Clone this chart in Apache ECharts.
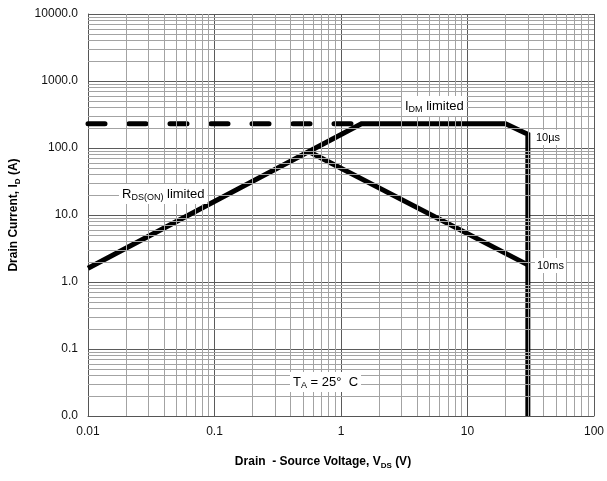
<!DOCTYPE html>
<html>
<head>
<meta charset="utf-8">
<script src="https://cdn.jsdelivr.net/npm/echarts@6.0.0/dist/echarts.min.js"></script>
<style>
html,body{margin:0;padding:0;background:#fff;}
#chart{width:607px;height:481px;}
</style>
</head>
<body>
<div id="chart"></div>
<script>
// ---- data ----
const xTickLabels = ['0.01', '0.1', '1', '10', '100'];
const yTickLabels = ['0.0', '0.1', '1.0', '10.0', '100.0', '1000.0', '10000.0'];
const xDecades = [0.01, 0.1, 1, 10, 100];
const yDecades = [0.01, 0.1, 1, 10, 100, 1000, 10000];
const minorMultipliers = [2, 3, 4, 5, 6, 7, 8, 9];
// I_DM limit extended to the left (dashed)
const idmDashed = [[0.01, 230], [1.45, 230]];
// SOA boundary: R_DS(on) limit -> I_DM limit -> 10us -> V_DS max
const soaBoundary = [[0.01, 1.6], [1.45, 230], [20, 230], [30, 160], [30, 0.01]];
// 10 ms line
const line10ms = [[0.56, 88], [30, 1.8]];

// minor grid positions
const xMinor = [];
xDecades.slice(0, -1).forEach(d => minorMultipliers.forEach(m => xMinor.push(d * m)));
const yMinor = [];
yDecades.slice(0, -1).forEach(d => minorMultipliers.forEach(m => yMinor.push(d * m)));

function labelFor(v, ticks, labels) {
  let best = 0, bd = Infinity;
  ticks.forEach((t, i) => {
    const d = Math.abs(Math.log10(v) - Math.log10(t));
    if (d < bd) { bd = d; best = i; }
  });
  return labels[best];
}

const chart = echarts.init(document.getElementById('chart'), null, {renderer: 'canvas'});
const FONT = '"Liberation Sans", Arial, sans-serif';

const minorLines = [];
xMinor.forEach(v => minorLines.push({xAxis: v}));
yMinor.forEach(v => minorLines.push({yAxis: v}));

const titleRich = {
  b: {fontSize: 12, fontWeight: 'bold', fontFamily: FONT, color: '#000', lineHeight: 16},
  s: {fontSize: 8, fontWeight: 'bold', fontFamily: FONT, color: '#000', lineHeight: 10, verticalAlign: 'bottom'}
};

const option = {
  animation: false,
  backgroundColor: '#fff',
  textStyle: {fontFamily: FONT},
  grid: {left: 88, right: 11, top: 14, bottom: 65, containLabel: false},
  xAxis: {
    type: 'log', logBase: 10, min: 0.01, max: 100, splitNumber: 4,
    axisLine: {show: true, onZero: false, lineStyle: {color: '#555', width: 1}},
    axisTick: {show: false},
    axisLabel: {
      color: '#111', fontSize: 12, fontFamily: FONT, margin: 10,
      formatter: v => labelFor(v, xDecades, xTickLabels)
    },
    splitLine: {show: true, lineStyle: {color: '#5a5a5a', width: 1}},
    name: '{b|Drain  - Source Voltage, V}{s|DS}{b| (V)}',
    nameLocation: 'middle', nameGap: 38,
    nameTextStyle: {padding: [0, 36, 0, 0], rich: titleRich}
  },
  yAxis: {
    type: 'log', logBase: 10, min: 0.01, max: 10000, splitNumber: 6,
    axisLine: {show: true, onZero: false, lineStyle: {color: '#555', width: 1}},
    axisTick: {show: false},
    axisLabel: {
      color: '#111', fontSize: 12, fontFamily: FONT, margin: 10,
      formatter: v => labelFor(v, yDecades, yTickLabels)
    },
    splitLine: {show: true, lineStyle: {color: '#5a5a5a', width: 1}},
    name: '{b|Drain Current, I}{s|D}{b| (A)}',
    nameLocation: 'middle', nameGap: 66, nameRotate: 90,
    nameTextStyle: {rich: titleRich}
  },
  series: [
    {
      type: 'line', data: [], silent: true,
      markLine: {
        silent: true, symbol: ['none', 'none'], animation: false,
        label: {show: false},
        lineStyle: {color: '#a3a3a3', width: 1, type: 'solid'},
        emphasis: {disabled: true},
        data: minorLines
      }
    },
    {
      type: 'line', data: idmDashed, symbol: 'none', silent: true,
      lineStyle: {color: '#000', width: 5, type: [17, 24], cap: 'round'}
    },
    {
      type: 'line', data: soaBoundary, symbol: 'none', silent: true,
      lineStyle: {color: '#000', width: 5, join: 'miter'}
    },
    {
      type: 'line', data: line10ms, symbol: 'none', silent: true,
      lineStyle: {color: '#000', width: 5}
    }
  ],
  graphic: [
    {
      type: 'text', left: 402, top: 96, z: 100,
      style: {
        text: '{m|I}{s|DM}{m| limited}', backgroundColor: '#fff', padding: [2, 3, 2, 3],
        rich: {
          m: {fontSize: 13, fontFamily: FONT, fill: '#000', lineHeight: 16},
          s: {fontSize: 9, fontFamily: FONT, fill: '#000', lineHeight: 10, verticalAlign: 'bottom'}
        }
      }
    },
    {
      type: 'text', left: 534, top: 130, z: 100,
      style: {text: '10\u00b5s', fontSize: 11, fontFamily: FONT, fill: '#000', backgroundColor: '#fff', padding: [2, 2, 2, 2]}
    },
    {
      type: 'text', left: 119, top: 184, z: 100,
      style: {
        text: '{m|R}{s|DS(ON)}{m| limited}', backgroundColor: '#fff', padding: [2, 3, 2, 3],
        rich: {
          m: {fontSize: 13, fontFamily: FONT, fill: '#000', lineHeight: 16},
          s: {fontSize: 9, fontFamily: FONT, fill: '#000', lineHeight: 10, verticalAlign: 'bottom'}
        }
      }
    },
    {
      type: 'text', left: 535, top: 258, z: 100,
      style: {text: '10ms', fontSize: 11, fontFamily: FONT, fill: '#000', backgroundColor: '#fff', padding: [2, 2, 2, 2]}
    },
    {
      type: 'text', left: 290, top: 372, z: 100,
      style: {
        text: '{m|T}{s|A}{m| = 25\u00b0  C}', backgroundColor: '#fff', padding: [2, 3, 2, 3],
        rich: {
          m: {fontSize: 13, fontFamily: FONT, fill: '#000', lineHeight: 16},
          s: {fontSize: 9, fontFamily: FONT, fill: '#000', lineHeight: 10, verticalAlign: 'bottom'}
        }
      }
    }
  ]
};
chart.setOption(option);
</script>
</body>
</html>
